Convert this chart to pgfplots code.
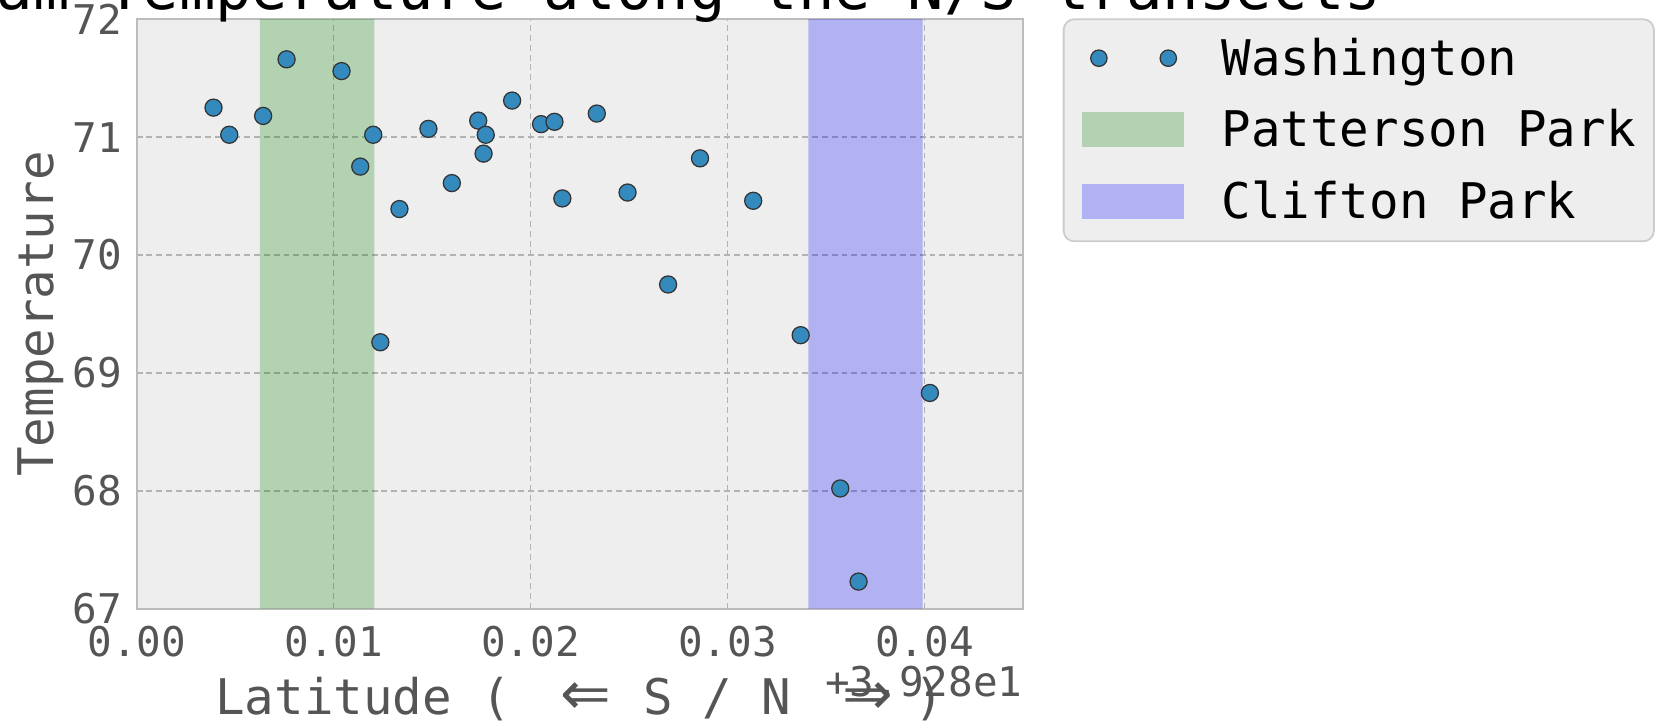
\documentclass[border=0pt]{standalone}
\usepackage{fontspec}
\setmainfont{DejaVu Sans Mono}
\newfontfamily\arrowfont{DejaVu Sans}
\usepackage{pgfplots}
\pgfplotsset{compat=1.18}

\definecolor{washblue}{HTML}{348ABD}
\definecolor{axbg}{HTML}{EEEEEE}
\definecolor{gridc}{HTML}{B2B2B2}
\definecolor{framec}{HTML}{BCBCBC}
\definecolor{labc}{HTML}{555555}
\definecolor{legframe}{HTML}{CCCCCC}
\definecolor{mplgreen}{HTML}{008000}
\definecolor{mplblue}{HTML}{0000FF}

\newcommand{\arr}[1]{{\arrowfont\fontsize{17}{16}\selectfont #1}}

% latitude offset from 39.28, temperature
\pgfplotstableread{
lat      temp
0.00390  71.25
0.00470  71.02
0.00642  71.18
0.00761  71.66
0.01040  71.56
0.01201  71.02
0.01135  70.75
0.01237  69.26
0.01334  70.39
0.01481  71.07
0.01600  70.61
0.01734  71.14
0.01772  71.02
0.01761  70.86
0.01906  71.31
0.02053  71.11
0.02121  71.13
0.02161  70.48
0.02336  71.20
0.02492  70.53
0.02698  69.75
0.02860  70.82
0.03130  70.46
0.03371  69.32
0.03572  68.02
0.03665  67.23
0.04027  68.83
}\washington

\begin{document}
\begin{tikzpicture}
\begin{axis}[
    at={(0pt,0pt)}, anchor=south west,
    scale only axis, width=249pt, height=165.6pt,
    xmin=0, xmax=0.045, ymin=67, ymax=72,
    xtick={0,0.01,0.02,0.03,0.04},
    ytick={67,68,69,70,71,72},
    scaled x ticks=false,
    /pgf/number format/assume math mode=true,
    tick label style={font=\fontsize{11.5}{13}\selectfont, text=labc, inner sep=0pt},
    xticklabel style={/pgf/number format/fixed, /pgf/number format/fixed zerofill,
        /pgf/number format/precision=2, anchor=base, yshift=-13.5pt},
    yticklabel style={anchor=east, xshift=-3.9pt},
    major tick length=0pt,
    grid=major,
    major grid style={draw=gridc, line width=0.45pt, dash pattern=on 1.65pt off 1.1pt},
    axis line style={draw=framec, line width=0.5pt},
    axis background/.style={fill=axbg},
    xlabel={Latitude (\hspace{14pt}\arr{⇐}\hspace{8.9pt}S / N\hspace{14.3pt}\arr{⇒}\hspace{6.2pt})},
    ylabel={Temperature},
    label style={font=\fontsize{13.8}{16}\selectfont, text=labc, inner sep=0pt},
    xlabel style={at={(axis description cs:0.5,-0.17935)}, anchor=base},
    ylabel style={at={(axis description cs:-0.09398,0.5)}, anchor=base},
    legend cell align=left,
    legend style={at={(axis description cs:1,1)}, anchor=north west, xshift=11.4pt,
        fill=axbg, draw=legframe, line width=0.5pt, rounded corners=3pt,
        inner xsep=5.1pt, inner ysep=6.2pt, outer sep=0pt,
        row sep=10.25pt, column sep=10.5pt,
        font=\fontsize{13.8}{16}\selectfont,
        nodes={inner sep=0pt, text height=9.5pt, text depth=0pt, text=black}},
]
% park bands
\addplot[forget plot, draw=none, fill=mplgreen, fill opacity=0.25]
    coordinates {(0.00626,67) (0.00626,72) (0.01207,72) (0.01207,67) (0.00626,67)};
\addplot[forget plot, draw=none, fill=mplblue, fill opacity=0.25]
    coordinates {(0.0341,67) (0.0341,72) (0.0399,72) (0.0399,67) (0.0341,67)};

\addplot[only marks, mark=*, mark size=2.4pt,
    mark options={fill=washblue, draw=black!80, line width=0.35pt},
    legend image code/.code={\draw[only marks, mark=*, mark size=2.3pt,
        mark options={fill=washblue, draw=black!80, line width=0.35pt}]
        plot coordinates {(4.8pt,0pt) (24.3pt,0pt)};}]
    table[x=lat, y=temp] {\washington};
\addlegendentry{Washington}
\addlegendimage{legend image code/.code={\fill[sharp corners, draw=none, fill=mplgreen, fill opacity=0.25] (0pt,-5pt) rectangle (28.8pt,5pt);}}
\addlegendentry{Patterson Park}
\addlegendimage{legend image code/.code={\fill[sharp corners, draw=none, fill=mplblue, fill opacity=0.25] (0pt,-5pt) rectangle (28.8pt,5pt);}}
\addlegendentry{Clifton Park}
\end{axis}
% title (cut by the top edge, as in the reference) and offset text
\node[anchor=base, inner sep=0pt, font=\fontsize{17}{20}\selectfont]
    at (124.5pt,168.2pt) {10:00 am Temperature along the N/S transects};
\node[anchor=base east, inner sep=0pt, font=\fontsize{11.5}{13}\selectfont, text=labc]
    at (249pt,-24.6pt) {+3.928e1};
\pgfresetboundingbox
\path[use as bounding box] (-38.4pt,-31.8pt) rectangle (429.9pt,171pt);
\end{tikzpicture}
\end{document}
